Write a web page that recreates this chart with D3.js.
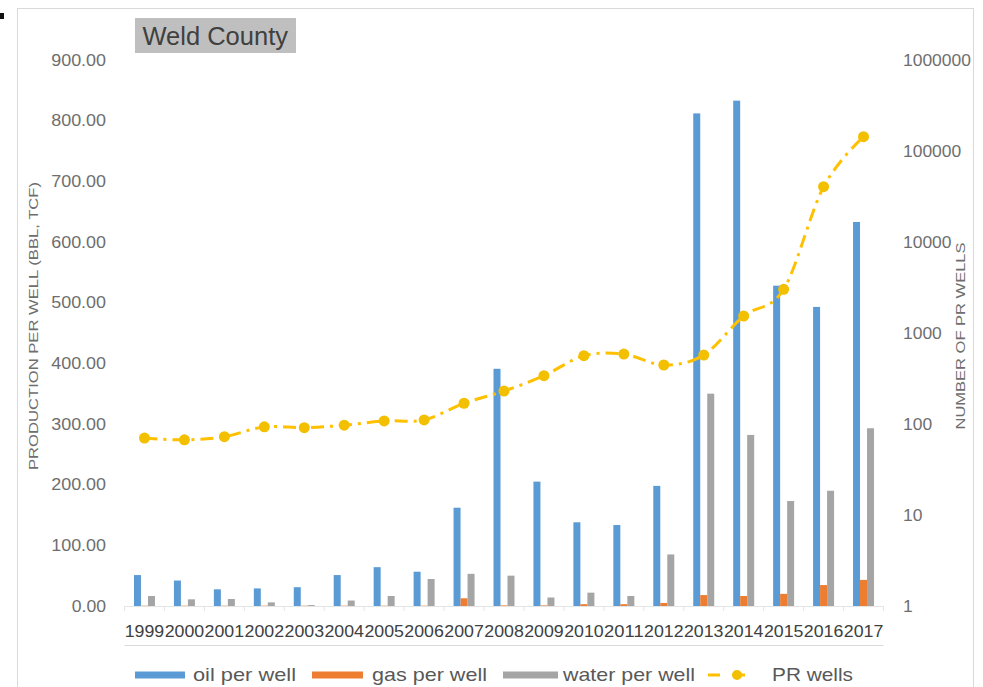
<!DOCTYPE html>
<html>
<head>
<meta charset="utf-8">
<script src="https://cdn.jsdelivr.net/npm/d3@7"></script>
<style>
  html, body { margin: 0; padding: 0; background: #fff; }
  svg { display: block; font-family: "Liberation Sans", Arial, sans-serif; }
</style>
</head>
<body>
<svg id="chart" width="983" height="687"></svg>
<script>
// Weld County production per well and number of PR wells, 1999-2017
const years = ["1999","2000","2001","2002","2003","2004","2005","2006","2007","2008",
               "2009","2010","2011","2012","2013","2014","2015","2016","2017"];
const oilPerWell   = [51, 42, 27.5, 29, 31, 51, 64, 56.5, 162, 391, 205, 138, 133.5, 198, 812, 833, 528, 493, 633];
const gasPerWell   = [0.5, 0.5, 0.5, 0.5, 0.5, 0.5, 0.5, 0.5, 12.7, 1, 1, 3, 3, 5, 18, 16.5, 20, 34.5, 43];
const waterPerWell = [16.5, 11, 11.5, 6, 1.5, 9, 16.5, 44.5, 53, 50, 14, 22, 16.5, 85, 350, 282, 173, 190, 293];
const prWells      = [70, 67, 72.5, 93, 91, 97, 108, 111, 169, 230, 340, 563, 587, 445, 573, 1537, 3020, 40500, 143500];

const leftTicks  = [0, 100, 200, 300, 400, 500, 600, 700, 800, 900];
const rightTicks = [1, 10, 100, 1000, 10000, 100000, 1000000];

const seriesNames  = ["oil per well", "gas per well", "water per well", "PR wells"];
const seriesColors = ["#5B9BD5", "#ED7D31", "#A5A5A5", "#FFC000"];

const svg = d3.select("#chart");
const textGray = "#595959";
const tickGray = "#6E6E6E";

// width of a numeric label: wide digits, narrow period
const numWidth = s => {
  const str = String(s);
  const dots = (str.match(/\./g) || []).length;
  return (str.length - dots) * 10.3 + dots * 3.3;
};

// outer chart frame
svg.append("rect").attr("x", 17.5).attr("y", 8.5).attr("width", 956).attr("height", 700)
  .attr("fill", "#fff").attr("stroke", "#D9D9D9").attr("stroke-width", 1);
svg.append("rect").attr("x", 0).attr("y", 13).attr("width", 4).attr("height", 6).attr("fill", "#111");

const plotTop = 60, plotBottom = 606, plotLeft = 124.5, plotRight = 883.5;

const x = d3.scaleBand().domain(years).range([plotLeft, plotRight]).padding(0);
const yLeft = d3.scaleLinear().domain([0, 900]).range([plotBottom, plotTop]);
const yRight = d3.scaleLog().domain([1, 1000000]).range([plotBottom, plotTop]);

// left axis labels
const fmt2 = d3.format(".2f");
const leftAxis = d3.axisLeft(yLeft).tickValues(leftTicks).tickFormat(fmt2).tickSize(0).tickPadding(0);
const gl = svg.append("g").attr("transform", "translate(106,0)").call(leftAxis);
gl.select(".domain").remove();
gl.selectAll("text").attr("fill", tickGray).attr("font-size", 16)
  .attr("font-family", "Liberation Sans, Arial, sans-serif")
  .attr("textLength", d => numWidth(fmt2(d))).attr("lengthAdjust", "spacingAndGlyphs");

// right axis labels
const rightAxis = d3.axisRight(yRight).tickValues(rightTicks).tickFormat(d3.format("d")).tickSize(0).tickPadding(0);
const gr = svg.append("g").attr("transform", "translate(903,0)").call(rightAxis);
gr.select(".domain").remove();
gr.selectAll("text").attr("fill", tickGray).attr("font-size", 16)
  .attr("font-family", "Liberation Sans, Arial, sans-serif")
  .attr("textLength", d => String(d).length * 9.7).attr("lengthAdjust", "spacingAndGlyphs");

// baseline with category separators
svg.append("line").attr("x1", plotLeft).attr("x2", plotRight)
  .attr("y1", plotBottom + 0.5).attr("y2", plotBottom + 0.5)
  .attr("stroke", "#E4E4E4").attr("stroke-width", 1);
svg.append("g").selectAll("line").data(years.concat(["end"])).join("line")
  .attr("x1", (d, i) => plotLeft + i * x.bandwidth())
  .attr("x2", (d, i) => plotLeft + i * x.bandwidth())
  .attr("y1", plotBottom).attr("y2", plotBottom + 5)
  .attr("stroke", "#E4E4E4").attr("stroke-width", 1);

// category labels
const bottomAxis = d3.axisBottom(x).tickSize(0).tickPadding(0);
const gb = svg.append("g").attr("transform", `translate(0,${plotBottom})`).call(bottomAxis);
gb.select(".domain").remove();
gb.selectAll("text").attr("fill", "#404040").attr("font-size", 16)
  .attr("font-family", "Liberation Sans, Arial, sans-serif")
  .attr("y", 31).attr("dy", 0)
  .attr("textLength", 39.5).attr("lengthAdjust", "spacingAndGlyphs");

svg.append("line").attr("x1", plotLeft).attr("x2", plotRight)
  .attr("y1", 645.5).attr("y2", 645.5).attr("stroke", "#D9D9D9").attr("stroke-width", 1);

// bars
const barW = 7;
const barSeries = [oilPerWell, gasPerWell, waterPerWell];
const barOffsets = [-10.5, -3.5, 3.5];
barSeries.forEach((vals, si) => {
  svg.append("g").selectAll("rect").data(vals).join("rect")
    .attr("x", (d, i) => x(years[i]) + x.bandwidth() / 2 + barOffsets[si])
    .attr("y", d => yLeft(d))
    .attr("width", barW)
    .attr("height", d => plotBottom - yLeft(d))
    .attr("fill", seriesColors[si]);
});

// PR wells line (smoothed, dash-dot) on log axis
const cx = (d, i) => x(years[i]) + x.bandwidth() / 2;
const line = d3.line().x(cx).y(d => yRight(d)).curve(d3.curveCatmullRom.alpha(0));
svg.append("path").datum(prWells).attr("d", line)
  .attr("fill", "none").attr("stroke", seriesColors[3]).attr("stroke-width", 3)
  .attr("stroke-dasharray", "13,6,3,6");
svg.append("g").selectAll("circle").data(prWells).join("circle")
  .attr("cx", cx).attr("cy", d => yRight(d)).attr("r", 5.5)
  .attr("fill", "#F2C000");

// axis titles
svg.append("text").attr("transform", "translate(38,326) rotate(-90)")
  .attr("text-anchor", "middle").attr("font-size", 13).attr("fill", tickGray)
  .attr("textLength", 288).attr("lengthAdjust", "spacingAndGlyphs")
  .text("PRODUCTION PER WELL (BBL, TCF)");
svg.append("text").attr("transform", "translate(965,336) rotate(-90)")
  .attr("text-anchor", "middle").attr("font-size", 13).attr("fill", tickGray)
  .attr("textLength", 187).attr("lengthAdjust", "spacingAndGlyphs")
  .text("NUMBER OF PR WELLS");

// title badge
svg.append("rect").attr("x", 135).attr("y", 18).attr("width", 161).attr("height", 35).attr("fill", "#BFBFBF");
svg.append("text").attr("x", 142.5).attr("y", 45).attr("font-size", 25).attr("fill", "#404040")
  .attr("textLength", 145.5).attr("lengthAdjust", "spacingAndGlyphs")
  .text("Weld County");

// legend
const legend = svg.append("g");
const legendItems = [
  { sx: 135, sw: 50, tx: 193, tw: 103 },
  { sx: 312, sw: 51, tx: 372, tw: 115 },
  { sx: 503, sw: 55, tx: 563, tw: 132 },
  { sx: 708, sw: 50, tx: 772, tw: 81 }
];
legendItems.forEach((it, i) => {
  if (i < 3) {
    legend.append("rect").attr("x", it.sx).attr("y", 671.5).attr("width", it.sw).attr("height", 7)
      .attr("fill", seriesColors[i]);
  } else {
    legend.append("line").attr("x1", it.sx).attr("x2", it.sx + it.sw).attr("y1", 675).attr("y2", 675)
      .attr("stroke", seriesColors[3]).attr("stroke-width", 3).attr("stroke-dasharray", "12,13");
    legend.append("circle").attr("cx", 737).attr("cy", 675).attr("r", 5).attr("fill", "#F2C000");
  }
  legend.append("text").attr("x", it.tx).attr("y", 681).attr("font-size", 19).attr("fill", textGray)
    .attr("textLength", it.tw).attr("lengthAdjust", "spacingAndGlyphs")
    .text(seriesNames[i]);
});
</script>
</body>
</html>
